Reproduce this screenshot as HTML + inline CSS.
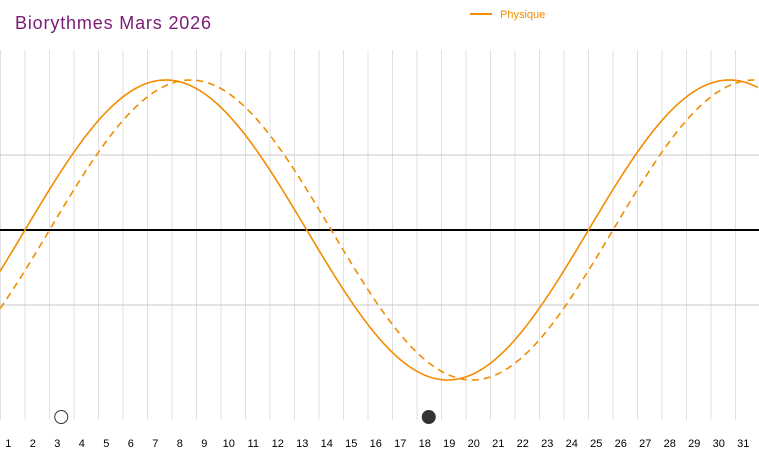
<!DOCTYPE html>
<html><head><meta charset="utf-8"><style>
body{margin:0;background:#fff;}
svg{display:block;font-family:"Liberation Sans","DejaVu Sans",sans-serif;}
</style></head><body>
<svg width="759" height="460" viewBox="0 0 759 460" xmlns="http://www.w3.org/2000/svg">
<text x="15" y="29" font-size="18" fill="#7a1a72" textLength="196">Biorythmes Mars 2026</text>
<line x1="470" y1="14" x2="492" y2="14" stroke="#f28c00" stroke-width="2"/>
<text x="500" y="18" font-size="11" fill="#f28c00">Physique</text>
<g id="grid" stroke="#e0e0e0" stroke-width="1"></g>
<line x1="0" y1="155" x2="759" y2="155" stroke="#c8c8c8"/>
<line x1="0" y1="305" x2="759" y2="305" stroke="#c8c8c8"/>
<line x1="0" y1="230" x2="759" y2="230" stroke="#000" stroke-width="2"/>
<path id="s" fill="none" stroke="#f28c00" stroke-width="1.6"/>
<path id="d" fill="none" stroke="#f28c00" stroke-width="1.6" stroke-dasharray="7,5"/>
<circle cx="61.25" cy="417" r="6.5" fill="#fff" stroke="#333" stroke-width="1"/>
<circle cx="428.75" cy="417" r="7" fill="#333"/>
<g id="lab" font-size="11" fill="#000" text-anchor="middle"></g>
</svg>
<script>
var g=document.getElementById('grid'),l=document.getElementById('lab'),ns='http://www.w3.org/2000/svg';
for(var k=0;k<=31;k++){var e=document.createElementNS(ns,'line');var x=24.5*k+0.5;e.setAttribute('x1',x);e.setAttribute('x2',x);e.setAttribute('y1',50);e.setAttribute('y2',420);g.appendChild(e);}
for(var d=1;d<=31;d++){var t=document.createElementNS(ns,'text');t.setAttribute('x',24.5*d-12.25-4);t.setAttribute('y',447);t.textContent=d;l.appendChild(t);}
function p(off){var s='';for(var x=0;x<=759;x+=2){var y=230-150*Math.sin(2*Math.PI*(x-off)/563.5);s+=(x?'L':'M')+x+' '+y.toFixed(2);}return s;}
document.getElementById('s').setAttribute('d',p(25));
document.getElementById('d').setAttribute('d',p(49.5));
</script>
</body></html>
